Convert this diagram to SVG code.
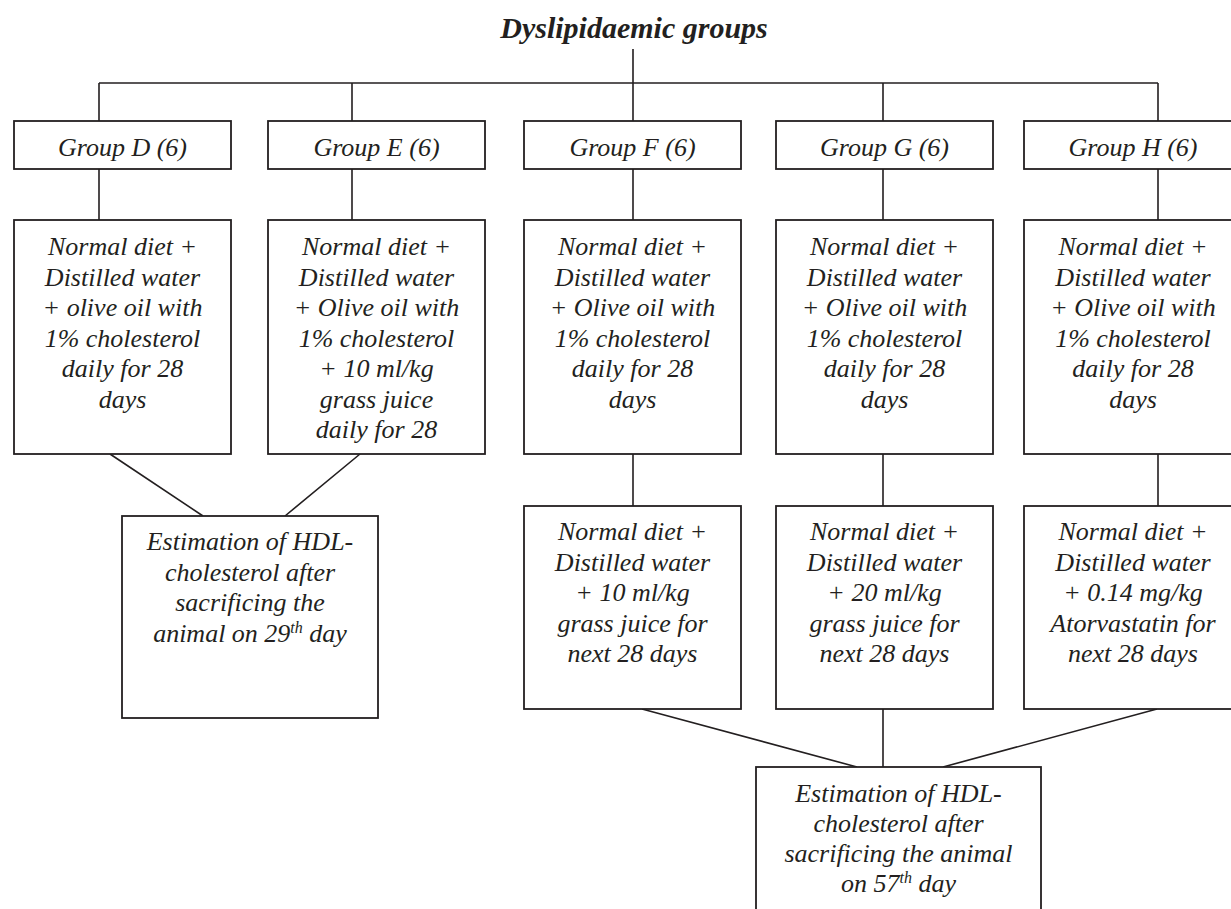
<svg xmlns="http://www.w3.org/2000/svg" width="1231" height="909" viewBox="0 0 1231 909">
<style>
.box{fill:#fff;stroke:#231f20;stroke-width:1.8}
.ln{fill:none;stroke:#231f20;stroke-width:1.6}
text{font-family:"Liberation Serif","Times New Roman",serif;font-style:italic;font-size:26px;fill:#231f20;text-anchor:middle}
.title{font-weight:bold;font-size:30px}
.sup{font-size:16px}
</style>
<rect width="1231" height="909" fill="#fff"/>
<g id="connectors">
<path class="ln" d="M633 49V83M99 83H1158M99 83V121M352 83V121M633 83V121M883 83V121M1158 83V121"/>
<path class="ln" d="M99 169V220M352 169V220M633 169V220M883 169V220M1158 169V220"/>
<path class="ln" d="M110 454L203 516M360 454L285 516"/>
<path class="ln" d="M633 454V506M883 454V506M1158 454V506"/>
<path class="ln" d="M642 709L857 767M883 709V767M1157 709L943 767"/>
</g>
<g id="title"><text class="title" x="634" y="38">Dyslipidaemic groups</text></g>
<g id="groupD"><rect class="box" x="14" y="121" width="217" height="48"/><text x="122.5" y="156">Group D (6)</text></g>
<g id="groupE"><rect class="box" x="268" y="121" width="217" height="48"/><text x="376.5" y="156">Group E (6)</text></g>
<g id="groupF"><rect class="box" x="524" y="121" width="217" height="48"/><text x="632.5" y="156">Group F (6)</text></g>
<g id="groupG"><rect class="box" x="776" y="121" width="217" height="48"/><text x="884.5" y="156">Group G (6)</text></g>
<g id="groupH"><rect class="box" x="1024" y="121" width="218" height="48"/><text x="1133" y="156">Group H (6)</text></g>
<g id="dietD"><rect class="box" x="14" y="220" width="217" height="234"/>
<text x="122.5" y="255">Normal diet +</text><text x="122.5" y="285.5">Distilled water</text><text x="122.5" y="316">+ olive oil with</text><text x="122.5" y="346.5">1% cholesterol</text><text x="122.5" y="377">daily for 28</text><text x="122.5" y="407.5">days</text></g>
<g id="dietE"><rect class="box" x="268" y="220" width="217" height="234"/>
<text x="376.5" y="255">Normal diet +</text><text x="376.5" y="285.5">Distilled water</text><text x="376.5" y="316">+ Olive oil with</text><text x="376.5" y="346.5">1% cholesterol</text><text x="376.5" y="377">+ 10 ml/kg</text><text x="376.5" y="407.5">grass juice</text><text x="376.5" y="438">daily for 28</text></g>
<g id="dietF"><rect class="box" x="524" y="220" width="217" height="234"/>
<text x="632.5" y="255">Normal diet +</text><text x="632.5" y="285.5">Distilled water</text><text x="632.5" y="316">+ Olive oil with</text><text x="632.5" y="346.5">1% cholesterol</text><text x="632.5" y="377">daily for 28</text><text x="632.5" y="407.5">days</text></g>
<g id="dietG"><rect class="box" x="776" y="220" width="217" height="234"/>
<text x="884.5" y="255">Normal diet +</text><text x="884.5" y="285.5">Distilled water</text><text x="884.5" y="316">+ Olive oil with</text><text x="884.5" y="346.5">1% cholesterol</text><text x="884.5" y="377">daily for 28</text><text x="884.5" y="407.5">days</text></g>
<g id="dietH"><rect class="box" x="1024" y="220" width="218" height="234"/>
<text x="1133" y="255">Normal diet +</text><text x="1133" y="285.5">Distilled water</text><text x="1133" y="316">+ Olive oil with</text><text x="1133" y="346.5">1% cholesterol</text><text x="1133" y="377">daily for 28</text><text x="1133" y="407.5">days</text></g>
<g id="estimate29"><rect class="box" x="122" y="516" width="256" height="202"/>
<text x="250" y="550">Estimation of HDL-</text><text x="250" y="580.5">cholesterol after</text><text x="250" y="611">sacrificing the</text><text x="250" y="641.5">animal on 29<tspan class="sup" dy="-9">th</tspan><tspan dy="9"> day</tspan></text></g>
<g id="treatF"><rect class="box" x="524" y="506" width="217" height="203"/>
<text x="632.5" y="540">Normal diet +</text><text x="632.5" y="570.5">Distilled water</text><text x="632.5" y="601">+ 10 ml/kg</text><text x="632.5" y="631.5">grass juice for</text><text x="632.5" y="662">next 28 days</text></g>
<g id="treatG"><rect class="box" x="776" y="506" width="217" height="203"/>
<text x="884.5" y="540">Normal diet +</text><text x="884.5" y="570.5">Distilled water</text><text x="884.5" y="601">+ 20 ml/kg</text><text x="884.5" y="631.5">grass juice for</text><text x="884.5" y="662">next 28 days</text></g>
<g id="treatH"><rect class="box" x="1024" y="506" width="218" height="203"/>
<text x="1133" y="540">Normal diet +</text><text x="1133" y="570.5">Distilled water</text><text x="1133" y="601">+ 0.14 mg/kg</text><text x="1133" y="631.5">Atorvastatin for</text><text x="1133" y="662">next 28 days</text></g>
<g id="estimate57"><rect class="box" x="756" y="767" width="285" height="160"/>
<text x="898.5" y="802">Estimation of HDL-</text><text x="898.5" y="832">cholesterol after</text><text x="898.5" y="862">sacrificing the animal</text><text x="898.5" y="892">on 57<tspan class="sup" dy="-9">th</tspan><tspan dy="9"> day</tspan></text></g>
</svg>
